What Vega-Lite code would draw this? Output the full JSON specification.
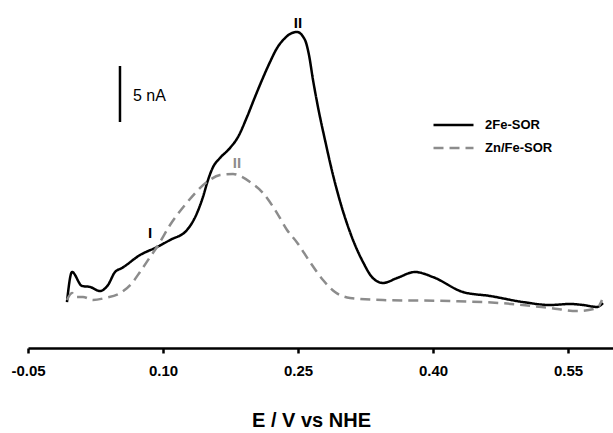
{
  "$schema": "https://vega.github.io/schema/vega-lite/v6.json",
  "width": 585,
  "height": 348,
  "autosize": "none",
  "padding": {"left": 28, "top": 0, "right": 0, "bottom": 85},
  "config": {"view": {"stroke": null}, "font": "Liberation Sans"},
  "datasets": {
    "curves": [
      {"series": "2Fe-SOR", "E": -0.0067, "I": 4.18},
      {"series": "2Fe-SOR", "E": -0.0011, "I": 6.91},
      {"series": "2Fe-SOR", "E": 0.01, "I": 5.64},
      {"series": "2Fe-SOR", "E": 0.0189, "I": 5.55},
      {"series": "2Fe-SOR", "E": 0.03, "I": 5.18},
      {"series": "2Fe-SOR", "E": 0.0389, "I": 5.73},
      {"series": "2Fe-SOR", "E": 0.0467, "I": 6.91},
      {"series": "2Fe-SOR", "E": 0.0544, "I": 7.27},
      {"series": "2Fe-SOR", "E": 0.0744, "I": 8.45},
      {"series": "2Fe-SOR", "E": 0.0933, "I": 9.18},
      {"series": "2Fe-SOR", "E": 0.1078, "I": 9.82},
      {"series": "2Fe-SOR", "E": 0.1267, "I": 10.73},
      {"series": "2Fe-SOR", "E": 0.1378, "I": 12.27},
      {"series": "2Fe-SOR", "E": 0.1444, "I": 13.73},
      {"series": "2Fe-SOR", "E": 0.15, "I": 15.27},
      {"series": "2Fe-SOR", "E": 0.1556, "I": 16.45},
      {"series": "2Fe-SOR", "E": 0.1633, "I": 17.27},
      {"series": "2Fe-SOR", "E": 0.1744, "I": 18.18},
      {"series": "2Fe-SOR", "E": 0.1833, "I": 19.18},
      {"series": "2Fe-SOR", "E": 0.1933, "I": 21.0},
      {"series": "2Fe-SOR", "E": 0.2022, "I": 22.82},
      {"series": "2Fe-SOR", "E": 0.21, "I": 24.36},
      {"series": "2Fe-SOR", "E": 0.2189, "I": 26.0},
      {"series": "2Fe-SOR", "E": 0.2267, "I": 27.27},
      {"series": "2Fe-SOR", "E": 0.2356, "I": 28.18},
      {"series": "2Fe-SOR", "E": 0.2411, "I": 28.55},
      {"series": "2Fe-SOR", "E": 0.2489, "I": 28.73},
      {"series": "2Fe-SOR", "E": 0.2578, "I": 28.0},
      {"series": "2Fe-SOR", "E": 0.2622, "I": 26.64},
      {"series": "2Fe-SOR", "E": 0.2667, "I": 24.36},
      {"series": "2Fe-SOR", "E": 0.2722, "I": 21.91},
      {"series": "2Fe-SOR", "E": 0.28, "I": 18.91},
      {"series": "2Fe-SOR", "E": 0.2889, "I": 15.73},
      {"series": "2Fe-SOR", "E": 0.2989, "I": 12.73},
      {"series": "2Fe-SOR", "E": 0.3111, "I": 9.82},
      {"series": "2Fe-SOR", "E": 0.3222, "I": 7.82},
      {"series": "2Fe-SOR", "E": 0.3322, "I": 6.45},
      {"series": "2Fe-SOR", "E": 0.3444, "I": 5.91},
      {"series": "2Fe-SOR", "E": 0.36, "I": 6.36},
      {"series": "2Fe-SOR", "E": 0.38, "I": 6.91},
      {"series": "2Fe-SOR", "E": 0.4, "I": 6.45},
      {"series": "2Fe-SOR", "E": 0.4333, "I": 5.09},
      {"series": "2Fe-SOR", "E": 0.4633, "I": 4.73},
      {"series": "2Fe-SOR", "E": 0.5, "I": 4.18},
      {"series": "2Fe-SOR", "E": 0.53, "I": 3.91},
      {"series": "2Fe-SOR", "E": 0.5522, "I": 4.0},
      {"series": "2Fe-SOR", "E": 0.5667, "I": 3.91},
      {"series": "2Fe-SOR", "E": 0.5822, "I": 3.73},
      {"series": "2Fe-SOR", "E": 0.5889, "I": 4.09},
      {"series": "Zn/Fe-SOR", "E": -0.0067, "I": 4.36},
      {"series": "Zn/Fe-SOR", "E": -0.0011, "I": 5.0},
      {"series": "Zn/Fe-SOR", "E": 0.0022, "I": 4.64},
      {"series": "Zn/Fe-SOR", "E": 0.0111, "I": 4.64},
      {"series": "Zn/Fe-SOR", "E": 0.0222, "I": 4.36},
      {"series": "Zn/Fe-SOR", "E": 0.0356, "I": 4.55},
      {"series": "Zn/Fe-SOR", "E": 0.0544, "I": 5.09},
      {"series": "Zn/Fe-SOR", "E": 0.0656, "I": 5.91},
      {"series": "Zn/Fe-SOR", "E": 0.0744, "I": 6.91},
      {"series": "Zn/Fe-SOR", "E": 0.0856, "I": 8.27},
      {"series": "Zn/Fe-SOR", "E": 0.0933, "I": 9.18},
      {"series": "Zn/Fe-SOR", "E": 0.1078, "I": 11.18},
      {"series": "Zn/Fe-SOR", "E": 0.1244, "I": 13.0},
      {"series": "Zn/Fe-SOR", "E": 0.1489, "I": 15.09},
      {"series": "Zn/Fe-SOR", "E": 0.1633, "I": 15.73},
      {"series": "Zn/Fe-SOR", "E": 0.1778, "I": 15.82},
      {"series": "Zn/Fe-SOR", "E": 0.1878, "I": 15.55},
      {"series": "Zn/Fe-SOR", "E": 0.1967, "I": 15.09},
      {"series": "Zn/Fe-SOR", "E": 0.2111, "I": 14.09},
      {"series": "Zn/Fe-SOR", "E": 0.2267, "I": 12.27},
      {"series": "Zn/Fe-SOR", "E": 0.2378, "I": 10.73},
      {"series": "Zn/Fe-SOR", "E": 0.2489, "I": 9.6},
      {"series": "Zn/Fe-SOR", "E": 0.2633, "I": 7.82},
      {"series": "Zn/Fe-SOR", "E": 0.2778, "I": 6.18},
      {"series": "Zn/Fe-SOR", "E": 0.2911, "I": 5.09},
      {"series": "Zn/Fe-SOR", "E": 0.3078, "I": 4.55},
      {"series": "Zn/Fe-SOR", "E": 0.3444, "I": 4.36},
      {"series": "Zn/Fe-SOR", "E": 0.4189, "I": 4.27},
      {"series": "Zn/Fe-SOR", "E": 0.4744, "I": 4.09},
      {"series": "Zn/Fe-SOR", "E": 0.53, "I": 3.64},
      {"series": "Zn/Fe-SOR", "E": 0.56, "I": 3.36},
      {"series": "Zn/Fe-SOR", "E": 0.5822, "I": 3.64},
      {"series": "Zn/Fe-SOR", "E": 0.5878, "I": 4.36}
    ],
    "peaks": [
      {"label": "I", "E": 0.0856, "I": 10.45, "series": "2Fe-SOR"},
      {"label": "II", "E": 0.25, "I": 29.55, "series": "2Fe-SOR"},
      {"label": "II", "E": 0.1822, "I": 16.8, "series": "Zn/Fe-SOR"}
    ],
    "bar": [{"E": 0.0522, "I0": 20.55, "I1": 25.64, "txt": "5 nA", "Et": 0.0667, "It": 22.9}]
  },
  "layer": [
    {
      "data": {"name": "curves"},
      "mark": {"type": "line", "strokeWidth": 2.5, "interpolate": "monotone"},
      "encoding": {
        "x": {
          "field": "E", "type": "quantitative",
          "scale": {"domain": [-0.05, 0.6], "nice": false, "zero": false},
          "axis": {
            "values": [-0.05, 0.1, 0.25, 0.4, 0.55],
            "labelExpr": "replace(format(datum.value, '.2f'), '\u2212', '-')",
            "grid": false,
            "domainColor": "black", "domainWidth": 2.5,
            "tickColor": "black", "tickWidth": 2.5, "tickSize": 5,
            "labelFont": "Liberation Sans", "labelFontSize": 15, "labelFontWeight": "bold",
            "labelColor": "black", "labelPadding": 10,
            "labelFlush": false,
            "title": "E / V vs NHE",
            "titleFont": "Liberation Sans", "titleFontSize": 20, "titleFontWeight": "bold",
            "titleColor": "black", "titlePadding": 32,
            "titleX": 283, "titleAlign": "center", "titleAnchor": null
          }
        },
        "y": {
          "field": "I", "type": "quantitative",
          "scale": {"domain": [0, 31.64], "nice": false, "zero": false},
          "axis": null
        },
        "color": {
          "field": "series", "type": "nominal",
          "scale": {"domain": ["2Fe-SOR", "Zn/Fe-SOR"], "range": ["#000000", "#8c8c8c"]},
          "legend": {
            "orient": "none", "legendX": 404, "legendY": 117,
            "title": null, "symbolType": "stroke", "symbolSize": 1600,
            "symbolStrokeWidth": 2.5, "clipHeight": 16, "rowPadding": 7,
            "labelFont": "Liberation Sans", "labelFontSize": 13, "labelFontWeight": "bold",
            "labelColor": "black", "labelOffset": 10
          }
        },
        "strokeDash": {
          "field": "series", "type": "nominal",
          "scale": {"domain": ["2Fe-SOR", "Zn/Fe-SOR"], "range": [[1, 0], [10, 6]]},
          "legend": {
            "orient": "none", "legendX": 404, "legendY": 117,
            "title": null, "symbolType": "stroke", "symbolSize": 1600,
            "symbolStrokeWidth": 2.5, "clipHeight": 16, "rowPadding": 7,
            "labelFont": "Liberation Sans", "labelFontSize": 13, "labelFontWeight": "bold",
            "labelColor": "black", "labelOffset": 10
          }
        }
      }
    },
    {
      "data": {"name": "peaks"},
      "mark": {"type": "text", "font": "Liberation Sans", "fontSize": 15, "fontWeight": "bold"},
      "encoding": {
        "x": {"field": "E", "type": "quantitative"},
        "y": {"field": "I", "type": "quantitative"},
        "text": {"field": "label"},
        "color": {"field": "series", "type": "nominal", "legend": null}
      }
    },
    {
      "data": {"name": "bar"},
      "mark": {"type": "rule", "strokeWidth": 2.5, "color": "black"},
      "encoding": {
        "x": {"field": "E", "type": "quantitative"},
        "y": {"field": "I0", "type": "quantitative"},
        "y2": {"field": "I1"}
      }
    },
    {
      "data": {"name": "bar"},
      "mark": {"type": "text", "font": "Liberation Sans", "fontSize": 16, "align": "left", "color": "black"},
      "encoding": {
        "x": {"field": "Et", "type": "quantitative"},
        "y": {"field": "It", "type": "quantitative"},
        "text": {"field": "txt"}
      }
    }
  ]
}
